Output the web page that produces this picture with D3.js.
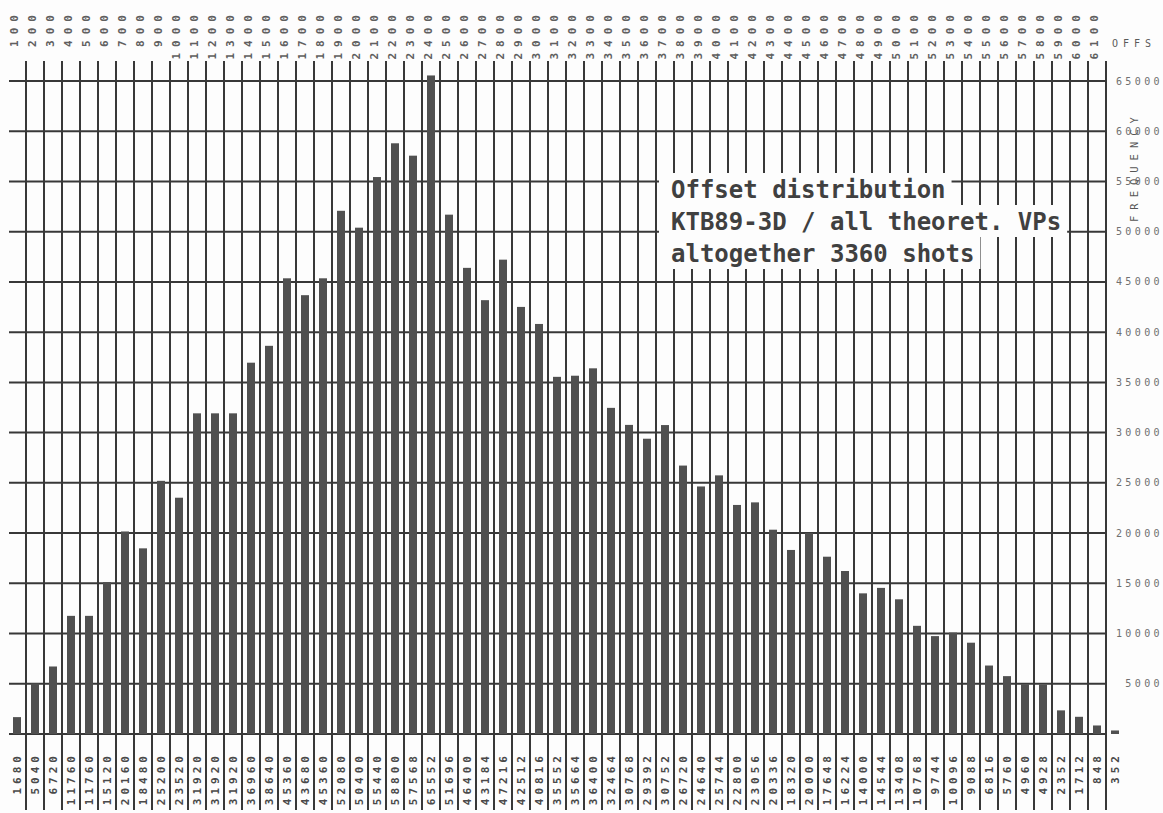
<!DOCTYPE html>
<html>
<head>
<meta charset="utf-8">
<script src="https://cdn.jsdelivr.net/npm/d3@7"></script>
<style>
  html, body { margin: 0; padding: 0; background: #fff; }
  svg { display: block; }
</style>
</head>
<body>
<svg id="chart" width="1163" height="813"></svg>
<script>
// Offset classes (top axis), one per column
const offsetLabels = ["100","200","300","400","500","600","700","800","900","1000",
  "1100","1200","1300","1400","1500","1600","1700","1800","1900","2000",
  "2100","2200","2300","2400","2500","2600","2700","2800","2900","3000",
  "3100","3200","3300","3400","3500","3600","3700","3800","3900","4000",
  "4100","4200","4300","4400","4500","4600","4700","4800","4900","5000",
  "5100","5200","5300","5400","5500","5600","5700","5800","5900","6000","6100"];

// Number of traces per offset class (also printed under each bar)
const counts = [1680,5040,6720,11760,11760,15120,20160,18480,25200,23520,
  31920,31920,31920,36960,38640,45360,43680,45360,52080,50400,
  55440,58800,57568,65552,51696,46400,43184,47216,42512,40816,
  35552,35664,36400,32464,30768,29392,30752,26720,24640,25744,
  22800,23056,20336,18320,20000,17648,16224,14000,14544,13408,
  10768,9744,10096,9088,6816,5760,4960,4928,2352,1712,848,352];

// Frequency axis ticks
const freqTicks = [5000,10000,15000,20000,25000,30000,35000,40000,45000,50000,55000,60000,65000];

const titleLines = ["Offset distribution", "KTB89-3D / all theoret. VPs", "altogether 3360 shots"];

const W = 1163, H = 813;
const svg = d3.select("#chart");
svg.append("rect").attr("width", W).attr("height", H).attr("fill", "#fdfdfd");

const x = d3.scaleBand()
  .domain(d3.range(counts.length))
  .range([8, 8 + counts.length * 18])
  .paddingInner(10 / 18)
  .paddingOuter(5 / 18);

const y = d3.scaleLinear().domain([0, 65000]).range([734, 81]);

const gridColor = "#383838";
const gapHalf = x.step() * x.paddingInner() / 2;
const sepX = i => x(i) + x.bandwidth() + gapHalf;   // separator right of column i
const plotRight = sepX(offsetLabels.length - 1);

// vertical separators
const grid = svg.append("g").attr("stroke", gridColor).attr("stroke-width", 2);
grid.selectAll("line.v")
  .data(offsetLabels)
  .join("line")
  .attr("class", "v")
  .attr("x1", (d, i) => sepX(i)).attr("x2", (d, i) => sepX(i))
  .attr("y1", 61).attr("y2", 810);

// horizontal frequency lines
grid.selectAll("line.h")
  .data([0].concat(freqTicks))
  .join("line")
  .attr("class", "h")
  .attr("x1", 9).attr("x2", plotRight)
  .attr("y1", d => y(d)).attr("y2", d => y(d));

// title block with its own white backing
const title = svg.append("g");
titleLines.forEach((t, i) => {
  const base = 198 + i * 32;
  const bg = title.append("rect").attr("fill", "#fdfdfd");
  const txt = title.append("text")
    .attr("x", 671).attr("y", base)
    .attr("font-family", "DejaVu Sans Mono, monospace")
    .attr("font-weight", "bold")
    .attr("font-size", 24)
    .attr("fill", "#404040")
    .text(t);
  const len = txt.node().getComputedTextLength();
  bg.attr("x", 659).attr("y", base - 25).attr("width", 671 - 659 + len + 6).attr("height", 32);
});

// bars
svg.append("g").attr("fill", "#505050")
  .selectAll("rect")
  .data(counts)
  .join("rect")
  .attr("x", (d, i) => x(i))
  .attr("width", x.bandwidth())
  .attr("y", d => y(d))
  .attr("height", d => y(0) - y(d));

const mono = "DejaVu Sans Mono, monospace";

// counts under the bars
svg.append("g")
  .selectAll("text")
  .data(counts)
  .join("text")
  .attr("transform", (d, i) => `translate(${x(i) + x.bandwidth() / 2},752) rotate(-90)`)
  .attr("text-anchor", "end")
  .attr("dominant-baseline", "central")
  .attr("font-family", mono).attr("font-weight", "bold")
  .attr("font-size", 11).attr("letter-spacing", 4)
  .attr("fill", "#4a4a4a")
  .text(d => d);

// offset labels on top
svg.append("g")
  .selectAll("text")
  .data(offsetLabels)
  .join("text")
  .attr("transform", (d, i) => `translate(${x(i) + x.bandwidth() / 2 - 3},9) rotate(-90)`)
  .attr("text-anchor", "end")
  .attr("dominant-baseline", "central")
  .attr("font-family", mono).attr("font-weight", "bold")
  .attr("font-size", 11).attr("letter-spacing", 6)
  .attr("fill", "#606060")
  .text(d => d);

// offset axis title
svg.append("text")
  .attr("x", 1112).attr("y", 43)
  .attr("dominant-baseline", "central")
  .attr("font-family", mono).attr("font-size", 10).attr("letter-spacing", 5)
  .attr("fill", "#5a5a5a")
  .text("OFFS");

// frequency tick labels, right-aligned against the page edge
svg.append("g")
  .selectAll("text")
  .data(freqTicks)
  .join("text")
  .attr("y", d => y(d))
  .attr("dominant-baseline", "central")
  .attr("font-family", mono).attr("font-size", 10).attr("letter-spacing", 3.4)
  .attr("fill", "#707070")
  .text(d => d)
  .each(function () {
    const len = this.getComputedTextLength();
    d3.select(this).attr("x", 1163 - len);
  });

// frequency axis title
svg.append("text")
  .attr("transform", "translate(1134,222) rotate(-90)")
  .attr("dominant-baseline", "central")
  .attr("font-family", mono).attr("font-size", 10.5).attr("letter-spacing", 6)
  .attr("fill", "#555")
  .text("FREQUENCY");
</script>
</body>
</html>
